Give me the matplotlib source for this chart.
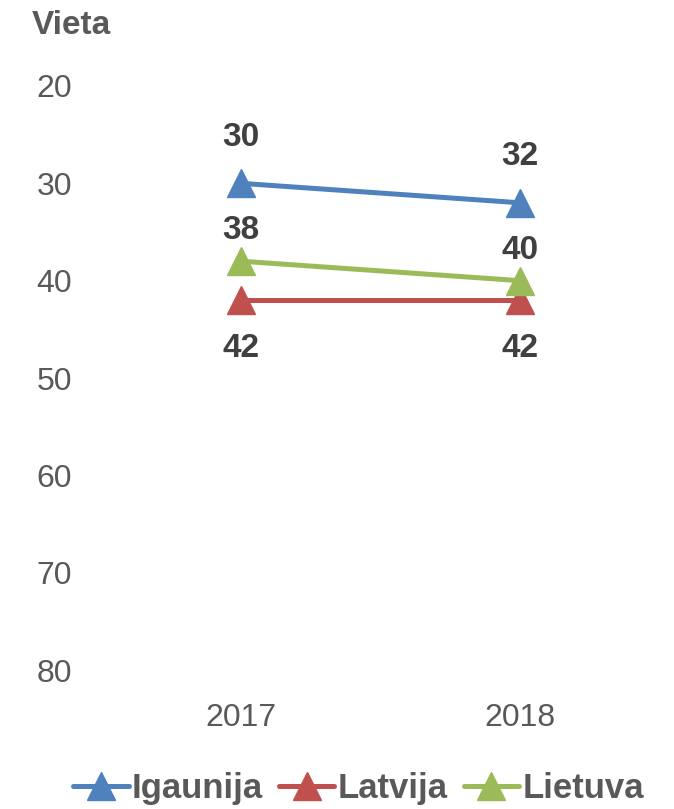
import matplotlib.pyplot as plt

years = ['2017', '2018']
igaunija = [30, 32]
latvija = [42, 42]
lietuva = [38, 40]
series = ['Igaunija', 'Latvija', 'Lietuva']
colors = ['#4F81BD', '#C0504D', '#9BBB59']
yticks = [20, 30, 40, 50, 60, 70, 80]

plt.rcParams['font.family'] = ['Liberation Sans', 'DejaVu Sans']

fig = plt.figure(figsize=(6.74, 8.09), dpi=100)
ax = fig.add_axes([0.1506, 0.1718, 0.8279, 0.7219])

x = [0.5, 1.5]
data = [igaunija, latvija, lietuva]
for name, vals, c in zip(series, data, colors):
    ax.plot(x, vals, color=c, lw=3.6, marker='^', ms=20, label=name, solid_capstyle='round')

# data labels (offset in points, + = above)
offsets = {'Igaunija': 33, 'Latvija': -35, 'Lietuva': 22}
for name, vals in zip(series, data):
    for xi, v in zip(x, vals):
        ax.annotate(str(v), (xi, v), xytext=(0, offsets[name]), textcoords='offset points',
                    ha='center', va='center', fontsize=24, fontweight='bold', color='#404040')

ax.set_xlim(0, 2)
ax.set_ylim(80, 20)
ax.set_yticks(yticks)
ax.set_xticks(x)
ax.set_xticklabels(years)
ax.tick_params(length=0, labelsize=23, labelcolor='#595959')
ax.tick_params(axis='y', pad=21)
ax.tick_params(axis='x', pad=24)
for s in ax.spines.values():
    s.set_visible(False)

fig.text(0.047, 0.988, 'Vieta', fontsize=24, fontweight='bold', color='#595959', va='top')

leg = fig.legend(loc='lower center', bbox_to_anchor=(0.532, -0.012), ncol=3, frameon=False,
                 fontsize=25, handlelength=1.6, columnspacing=0.45, handletextpad=0.1,
                 borderaxespad=0.0)
for t in leg.get_texts():
    t.set_fontweight('bold')
    t.set_color('#595959')

fig.savefig('out.png', dpi=100)
